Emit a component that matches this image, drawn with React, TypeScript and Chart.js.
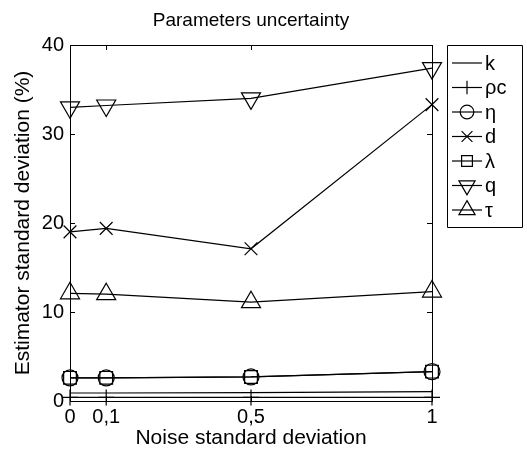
import React, { useEffect, useRef } from 'react';
import { Chart, registerables } from 'chart.js';
Chart.register(...registerables);

const xValues = [0, 0.1, 0.5, 1];
const xTickLabels = ['0', '0,1', '0,5', '1'];
const yTickValues = [0, 10, 20, 30, 40];
const seriesNames = ['k', 'ρc', 'η', 'd', 'λ', 'q', 'τ'];
const kValues = [0.9, 0.9, 0.95, 1.05];
const rhoCValues = [0.4, 0.4, 0.4, 0.4];
const etaValues = [2.6, 2.6, 2.7, 3.3];
const dValues = [19.0, 19.4, 17.1, 33.3];
const lambdaValues = [2.6, 2.6, 2.7, 3.3];
const qValues = [33.0, 33.2, 34.0, 37.4];
const tauValues = [12.1, 12.0, 11.1, 12.3];

const FONT = '"Liberation Sans", Arial, Helvetica, sans-serif';

type MarkerSpec = { style: string | false; radius: number; rotation: number };
const markers: MarkerSpec[] = [
  { style: false, radius: 0, rotation: 0 },
  { style: 'cross', radius: 8, rotation: 0 },
  { style: 'circle', radius: 8, rotation: 0 },
  { style: 'crossRot', radius: 9, rotation: 0 },
  { style: 'rect', radius: 9, rotation: 0 },
  { style: 'triangle', radius: 11, rotation: 180 },
  { style: 'triangle', radius: 11, rotation: 0 },
];

const seriesValues = [kValues, rhoCValues, etaValues, dValues, lambdaValues, qValues, tauValues];

function drawMarker(ctx: CanvasRenderingContext2D, m: MarkerSpec, x: number, y: number) {
  if (!m.style) return;
  const r = m.radius;
  ctx.beginPath();
  if (m.style === 'circle') {
    ctx.arc(x, y, r, 0, Math.PI * 2);
  } else if (m.style === 'cross') {
    ctx.moveTo(x - r, y); ctx.lineTo(x + r, y);
    ctx.moveTo(x, y - r); ctx.lineTo(x, y + r);
  } else if (m.style === 'crossRot') {
    const o = r * Math.SQRT1_2;
    ctx.moveTo(x - o, y - o); ctx.lineTo(x + o, y + o);
    ctx.moveTo(x - o, y + o); ctx.lineTo(x + o, y - o);
  } else if (m.style === 'rect') {
    const s = r * Math.SQRT1_2;
    ctx.rect(x - s, y - s, 2 * s, 2 * s);
  } else if (m.style === 'triangle') {
    let rad = (m.rotation * Math.PI) / 180;
    ctx.moveTo(x + Math.sin(rad) * r, y - Math.cos(rad) * r);
    for (let i = 0; i < 2; i++) {
      rad += (2 * Math.PI) / 3;
      ctx.lineTo(x + Math.sin(rad) * r, y - Math.cos(rad) * r);
    }
    ctx.closePath();
  }
  ctx.stroke();
}

const framePlugin = {
  id: 'frame',
  afterDraw(chart: any) {
    const ctx: CanvasRenderingContext2D = chart.ctx;
    const { left, right, top, bottom } = chart.chartArea;
    const xs = chart.scales.x;
    const ys = chart.scales.y;
    ctx.save();
    ctx.strokeStyle = '#000';
    ctx.lineWidth = 1;
    ctx.beginPath();
    ctx.rect(Math.round(left) + 0.5, Math.round(top) + 0.5, Math.round(right - left), Math.round(bottom - top));
    ctx.stroke();
    const tl = 5;
    ctx.beginPath();
    xValues.forEach((v) => {
      const px = Math.round(xs.getPixelForValue(v)) + 0.5;
      ctx.moveTo(px, bottom); ctx.lineTo(px, bottom - tl);
      ctx.moveTo(px, top); ctx.lineTo(px, top + tl);
    });
    yTickValues.forEach((v) => {
      const py = Math.round(ys.getPixelForValue(v)) + 0.5;
      ctx.moveTo(left, py); ctx.lineTo(left + tl, py);
      ctx.moveTo(right, py); ctx.lineTo(right - tl, py);
    });
    ctx.stroke();

    // title
    ctx.fillStyle = '#000';
    ctx.font = `19px ${FONT}`;
    ctx.textAlign = 'center';
    ctx.textBaseline = 'middle';
    ctx.fillText('Parameters uncertainty', (left + right) / 2, 21);

    // legend
    const lx = 447, ly = 45, lw = 75, lh = 182;
    ctx.beginPath();
    ctx.rect(lx + 0.5, ly + 0.5, lw, lh);
    ctx.stroke();
    ctx.font = `20px ${FONT}`;
    ctx.textAlign = 'left';
    seriesNames.forEach((name, i) => {
      const cy = 63 + i * 24.5;
      ctx.lineWidth = 1.2;
      ctx.beginPath();
      ctx.moveTo(452, cy); ctx.lineTo(482, cy);
      ctx.stroke();
      const m = markers[i];
      drawMarker(ctx, { ...m, radius: m.radius * 0.85 }, 467, cy);
      ctx.fillText(name, 485, cy + 1);
    });
    ctx.restore();
  },
};

export default function App() {
  const ref = useRef<HTMLCanvasElement>(null);
  useEffect(() => {
    document.body.style.margin = '0';
    if (!ref.current) return;
    const datasets = seriesNames.map((name, i) => ({
      label: name,
      data: xValues.map((x, j) => ({ x, y: seriesValues[i][j] })),
      borderColor: '#000',
      backgroundColor: 'transparent',
      borderWidth: 1.2,
      pointStyle: markers[i].style as any,
      pointRadius: markers[i].radius,
      pointRotation: markers[i].rotation,
      pointBorderColor: '#000',
      pointBackgroundColor: 'transparent',
      pointBorderWidth: 1.2,
      tension: 0,
      clip: false as any,
    }));
    const chart = new Chart(ref.current, {
      type: 'line',
      data: { datasets },
      options: {
        animation: false,
        responsive: false,
        layout: { padding: { top: 45, right: 95, left: 0, bottom: 0 } },
        plugins: { legend: { display: false }, tooltip: { enabled: false }, title: { display: false } },
        scales: {
          x: {
            type: 'linear',
            min: 0,
            max: 1,
            afterBuildTicks: (s: any) => { s.ticks = xValues.map((v) => ({ value: v })); },
            afterFit: (s: any) => { s.height = 50; },
            grid: { display: false, drawTicks: false },
            border: { display: false },
            ticks: {
              autoSkip: false,
              maxRotation: 0,
              padding: 4,
              color: '#000',
              font: { family: FONT, size: 20 },
              callback: (v: any) => {
                const idx = xValues.indexOf(Number(v));
                return idx >= 0 ? xTickLabels[idx] : '';
              },
            },
            title: {
              display: true,
              text: 'Noise standard deviation',
              color: '#000',
              font: { family: FONT, size: 21 },
              padding: { top: 0, bottom: 0 },
            },
          },
          y: {
            min: 0,
            max: 40,
            afterBuildTicks: (s: any) => { s.ticks = yTickValues.map((v) => ({ value: v })); },
            afterFit: (s: any) => { s.width = 70; },
            grid: { display: false, drawTicks: false },
            border: { display: false },
            ticks: {
              padding: 6,
              color: '#000',
              font: { family: FONT, size: 20 },
              callback: (v: any) => String(v),
            },
            title: {
              display: true,
              text: 'Estimator standard deviation (%)',
              color: '#000',
              font: { family: FONT, size: 21 },
              padding: { top: 11, bottom: 0 },
            },
          },
        },
      },
      plugins: [framePlugin],
    });
    return () => chart.destroy();
  }, []);
  return <canvas ref={ref} width={527} height={451} style={{ display: 'block' }} />;
}
